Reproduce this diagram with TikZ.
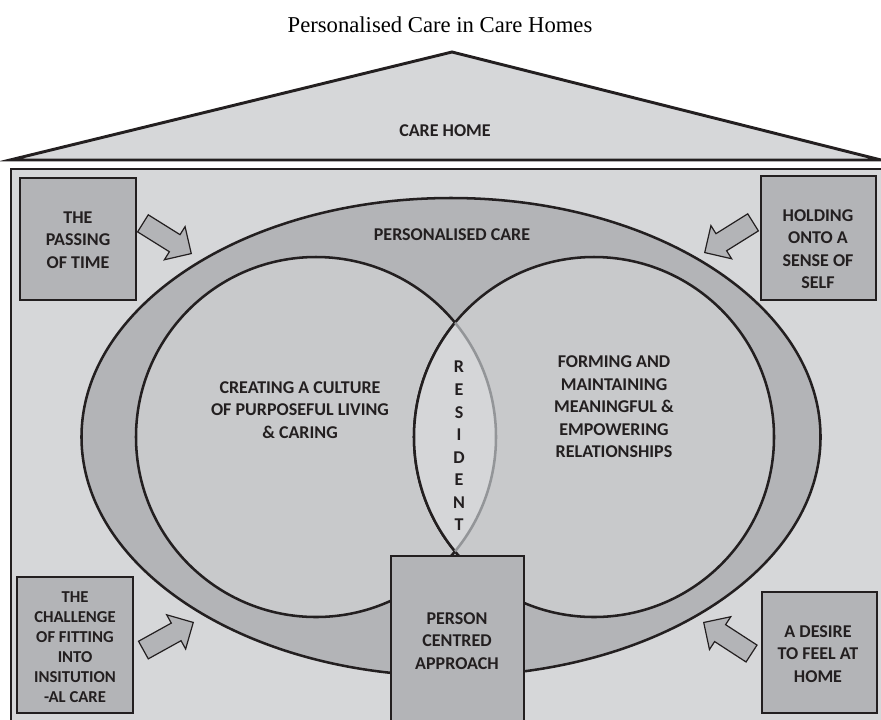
\documentclass[tikz,border=0pt]{standalone}
\usepackage{fontspec}
\setmainfont{Liberation Serif}
\newfontfamily\labelfont{Carlito}
\usetikzlibrary{shapes.arrows}

\definecolor{homebg}{HTML}{D6D7D9}
\definecolor{ringgray}{HTML}{B3B4B7}
\definecolor{circgray}{HTML}{C8C9CB}
\definecolor{lensgray}{HTML}{D5D6D8}
\definecolor{boxgray}{HTML}{B3B4B7}
\definecolor{inkgray}{HTML}{231F20}
\definecolor{lensline}{HTML}{939598}

\tikzset{
	wall/.style={draw=inkgray, line width=2.2pt, fill=homebg},
	ringline/.style={draw=inkgray, line width=1.9pt},
	factor/.style={draw=inkgray, line width=2.2pt, fill=boxgray},
	caps/.style={font=\labelfont\bfseries\fontsize{13.5}{16.9}\selectfont, text=inkgray, align=center},
	blockarrow/.style={single arrow, draw=inkgray, line width=0.9pt, fill=boxgray,
		inner xsep=0pt, inner ysep=7.1pt, single arrow head extend=7.1pt,
		minimum height=42.75pt, anchor=tip}}
\tikzset{every picture/.style={line width=0.75pt}}

\begin{document}
\begin{tikzpicture}[x=0.75pt,y=0.75pt,yscale=-1,xscale=1]
	\useasboundingbox (0,0) rectangle (881,719);

	%Shape: Roof
	\draw [wall] (10,160) -- (452,52) -- (881,160) -- cycle ;
	%Shape: House body
	\draw [wall] (11,169) rectangle (886,726) ;
	%Shape: Ellipse (personalised care)
	\draw [ringline, fill=ringgray] (451,437) ellipse (369.5 and 239) ;
	%Shape: Circles
	\draw [ringline, fill=circgray] (316,437) circle (180) ;
	\draw [ringline, fill=circgray] (594,437) circle (180) ;
	%Shape: Lens (resident)
	\begin{scope}
		\clip (316,437) circle (180) ;
		\fill [lensgray] (594,437) circle (180) ;
		\draw [ringline] (594,437) circle (180) ;
	\end{scope}
	\begin{scope}
		\clip (594,437) circle (180) ;
		\draw [ringline, draw=lensline] (316,437) circle (180) ;
	\end{scope}

	%Shape: Person centred box
	\draw [factor] (391,556) rectangle (524,726) ;
	%Shape: Corner boxes
	\draw [factor] (20,178) rectangle (136,300) ;
	\draw [factor] (761,176) rectangle (876,300) ;
	\draw [factor] (17,577) rectangle (133,713) ;
	\draw [factor] (762,592) rectangle (877,713) ;

	%Block arrows
	\draw (192,254) node [blockarrow, rotate=-32] (arrowTL) {} ;
	\draw (704,253) node [blockarrow, rotate=212] (arrowTR) {} ;
	\draw (194,622) node [blockarrow, rotate=29] (arrowBL) {} ;
	\draw (703,622) node [blockarrow, rotate=147] (arrowBR) {} ;

	% Text Node
	\draw (440,25) node [font=\fontsize{17}{20}\selectfont] (title) {Personalised Care in Care Homes};
	% Text Node
	\draw (445,131) node [caps] (carehome) {CARE HOME};
	% Text Node
	\draw (452,235) node [caps] (personalised) {PERSONALISED CARE};
	% Text Node
	\draw (300,410) node [caps] (culture) {CREATING A CULTURE\\OF PURPOSEFUL LIVING\\\& CARING};
	% Text Node
	\draw (614,407) node [caps] (relations) {FORMING AND\\MAINTAINING\\MEANINGFUL \&\\EMPOWERING\\RELATIONSHIPS};
	% Text Node
	\draw (459,446) node [caps] (resident) {R\\E\\S\\I\\D\\E\\N\\T};
	% Text Node
	\draw (457,641) node [caps] (person) {PERSON\\CENTRED\\APPROACH};
	% Text Node
	\draw (78,240) node [caps] (passing) {THE\\PASSING\\OF TIME};
	% Text Node
	\draw (818,249) node [caps] (holding) {HOLDING\\ONTO A\\SENSE OF\\SELF};
	% Text Node
	\draw (75,647) node [caps, font=\labelfont\bfseries\fontsize{12.5}{15}\selectfont] (challenge) {THE\\CHALLENGE\\OF FITTING\\INTO\\INSITUTION\\-AL CARE};
	% Text Node
	\draw (818,654) node [caps] (desire) {A DESIRE\\TO FEEL AT\\HOME};

\end{tikzpicture}
\end{document}
